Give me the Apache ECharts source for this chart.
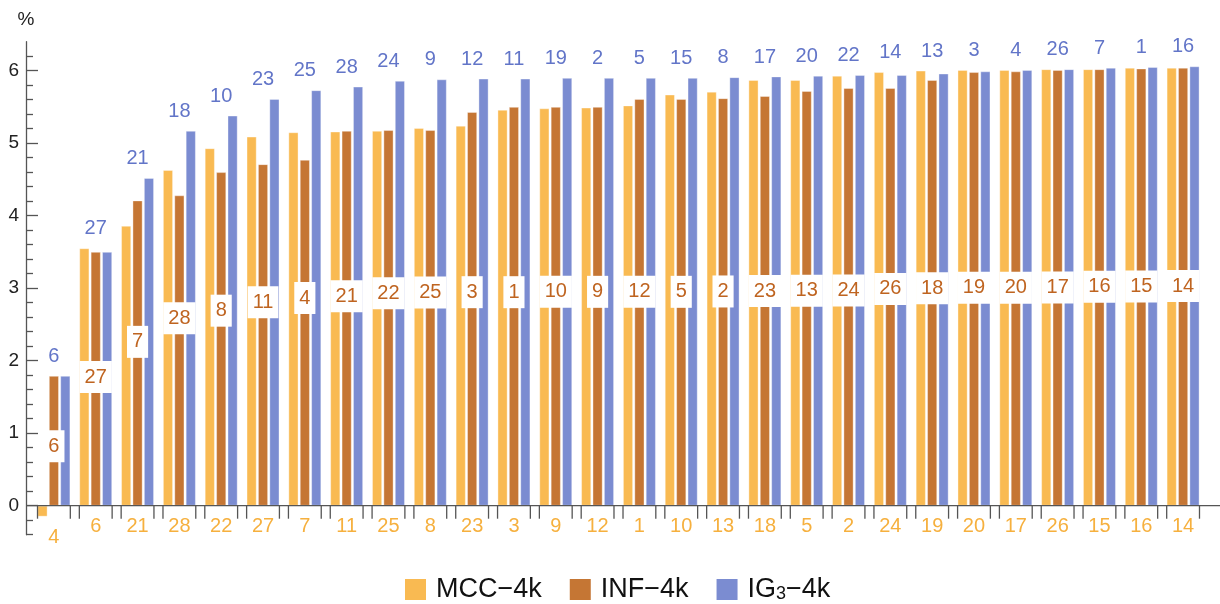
<!DOCTYPE html>
<html>
<head>
<meta charset="utf-8">
<script src="https://cdn.jsdelivr.net/npm/echarts@6/dist/echarts.min.js"></script>
<style>
  html, body { margin: 0; padding: 0; background: #ffffff; }
  #chart { width: 1220px; height: 604px; }
</style>
</head>
<body>
<div id="chart"></div>
<script>
// Rank labels of each group (sample ids ordered by the MCC-4k score)
const MCC_RANK = [4, 6, 21, 28, 22, 27, 7, 11, 25, 8, 23, 3, 9, 12, 1, 10, 13, 18, 5, 2, 24, 19, 20, 17, 26, 15, 16, 14];
const INF_RANK = [6, 27, 7, 28, 8, 11, 4, 21, 22, 25, 3, 1, 10, 9, 12, 5, 2, 23, 13, 24, 26, 18, 19, 20, 17, 16, 15, 14];
const IG_RANK  = [6, 27, 21, 18, 10, 23, 25, 28, 24, 9, 12, 11, 19, 2, 5, 15, 8, 17, 20, 22, 14, 13, 3, 4, 26, 7, 1, 16];

// Scores in percent
const MCC = [-0.15, 3.55, 3.86, 4.63, 4.93, 5.09, 5.15, 5.16, 5.17, 5.21, 5.24, 5.46, 5.48, 5.49,
             5.52, 5.67, 5.71, 5.87, 5.87, 5.93, 5.98, 6.00, 6.01, 6.01, 6.02, 6.02, 6.04, 6.04];
const INF = [1.79, 3.50, 4.21, 4.28, 4.60, 4.71, 4.77, 5.17, 5.18, 5.18, 5.43, 5.50, 5.50, 5.50,
             5.61, 5.61, 5.62, 5.65, 5.72, 5.76, 5.76, 5.87, 5.98, 5.99, 6.01, 6.02, 6.03, 6.04];
const IG  = [1.79, 3.50, 4.52, 5.17, 5.38, 5.61, 5.73, 5.78, 5.86, 5.88, 5.89, 5.89, 5.90, 5.90,
             5.90, 5.90, 5.91, 5.92, 5.93, 5.94, 5.94, 5.96, 5.99, 6.01, 6.02, 6.04, 6.05, 6.06];

const SERIES_NAMES = ['MCC\u22124k', 'INF\u22124k', 'IG\u2083\u22124k'];
const Y_TICKS = [0, 1, 2, 3, 4, 5, 6];
const Y_MIN = -0.4, Y_MAX = 6.4;

const COLORS = ['#F9BA52', '#C57634', '#7B8CD1'];
const LABEL_COLORS = ['#F6B03E', '#BF6420', '#6275C8'];
const AXIS_COLOR = '#555555';
const FONT = '"Liberation Sans", Arial, sans-serif';
const BAR_W = 10, BAR_GAP = 0.14;

// minor ticks every 0.2 between the labelled integers
const minorTicks = [];
for (let k = -2; k <= 31; k++) if (k % 5 !== 0) minorTicks.push(+(k * 0.2).toFixed(1));

// vertical extent of each group (used to place the group labels)
const lo = MCC.map((v, i) => Math.min(0, v, INF[i], IG[i]));
const hi = MCC.map((v, i) => Math.max(0, v, INF[i], IG[i]));

const chart = echarts.init(document.getElementById('chart'), null, { renderer: 'canvas' });

const barSeries = [MCC, INF, IG].map((vals, s) => ({
  name: SERIES_NAMES[s],
  type: 'bar',
  barWidth: BAR_W,
  barGap: (BAR_GAP * 100) + '%',
  yAxisIndex: 0,
  data: vals,
  itemStyle: { color: COLORS[s], borderColor: 'rgba(255,255,255,0.45)', borderWidth: 0.8 },
  z: 2
}));

const option = {
  animation: false,
  backgroundColor: '#ffffff',
  grid: { left: 33, right: 16, top: 41.7, bottom: 69.3, containLabel: false },
  xAxis: {
    type: 'category',
    data: MCC_RANK.map(String),
    axisLine: { show: false },
    axisTick: { show: false },
    axisLabel: { show: false },
    splitLine: { show: false }
  },
  yAxis: [
    {
      type: 'value', position: 'left', offset: 7,
      min: Y_MIN, max: Y_MAX,
      name: '%', nameLocation: 'end', nameGap: 12,
      nameTextStyle: { fontFamily: FONT, fontSize: 19, color: '#222', align: 'center' },
      axisLine: { show: true, lineStyle: { color: AXIS_COLOR, width: 1.3 } },
      axisTick: { show: true, inside: true, length: 12, customValues: Y_TICKS, lineStyle: { color: AXIS_COLOR, width: 1.3 } },
      axisLabel: { show: true, customValues: Y_TICKS, margin: 7, fontFamily: FONT, fontSize: 19, color: '#222' },
      splitLine: { show: false }
    },
    {
      type: 'value', position: 'left', offset: 7,
      min: Y_MIN, max: Y_MAX,
      axisLine: { show: false },
      axisTick: { show: true, inside: true, length: 7, customValues: minorTicks, lineStyle: { color: AXIS_COLOR, width: 1.3 } },
      axisLabel: { show: false },
      splitLine: { show: false }
    }
  ],
  legend: {
    data: SERIES_NAMES,
    left: 400, top: 571,
    itemWidth: 21, itemHeight: 21, itemGap: 28,
    icon: 'rect',
    itemStyle: { borderWidth: 0 },
    formatter: n => n === SERIES_NAMES[2] ? '{b|IG}{s|3}{b|\u22124k}' : '{b|' + n + '}',
    textStyle: {
      fontFamily: FONT, fontSize: 27, color: '#111', padding: [0, 0, 0, 5],
      rich: {
        b: { fontFamily: FONT, fontSize: 27, color: '#111' },
        s: { fontFamily: FONT, fontSize: 18, color: '#111', padding: [10, 0, 0, 0] }
      }
    }
  },
  series: barSeries.concat([
    {
      // zero line of the category axis and the paired ticks at each group's edges
      name: 'axisMarks',
      type: 'custom',
      yAxisIndex: 0,
      silent: true,
      z: 3,
      data: MCC_RANK.map((_, i) => [i, 0]),
      renderItem(params, api) {
        const p = api.coord([api.value(0), 0]);
        const half = (3 * BAR_W + 2 * BAR_W * BAR_GAP) / 2;
        const st = { stroke: AXIS_COLOR, lineWidth: 1.3 };
        const children = [
          { type: 'line', shape: { x1: p[0] - half, y1: p[1], x2: p[0] - half, y2: p[1] + 13 }, style: st },
          { type: 'line', shape: { x1: p[0] + half, y1: p[1], x2: p[0] + half, y2: p[1] + 13 }, style: st }
        ];
        if (params.dataIndex === 0) {
          const cs = params.coordSys;
          children.push({ type: 'line', shape: { x1: cs.x - 7, y1: p[1], x2: api.getWidth(), y2: p[1] }, style: st });
        }
        return { type: 'group', children };
      }
    },
    {
      // rank labels: MCC below each group, INF boxed at mid-height, IG3 above
      name: 'rankLabels',
      type: 'custom',
      yAxisIndex: 0,
      silent: true,
      z: 5,
      data: MCC_RANK.map((_, i) => [i, lo[i], hi[i]]),
      renderItem(params, api) {
        const i = params.dataIndex;
        const x = api.coord([i, 0])[0];
        const yLo = api.coord([i, lo[i]])[1];
        const yHi = api.coord([i, hi[i]])[1];
        const yMid = api.coord([i, (lo[i] + hi[i]) / 2])[1];
        const font = '20px ' + FONT;
        return {
          type: 'group',
          children: [
            { type: 'text', x: x, y: yLo + 20.5,
              style: { text: String(MCC_RANK[i]), fill: LABEL_COLORS[0], font, align: 'center', verticalAlign: 'middle' } },
            { type: 'text', x: x, y: yHi - 19.5,
              style: { text: String(IG_RANK[i]), fill: LABEL_COLORS[2], font, align: 'center', verticalAlign: 'middle' } },
            { type: 'text', x: x, y: yMid,
              style: { text: String(INF_RANK[i]), fill: LABEL_COLORS[1], font, align: 'center', verticalAlign: 'middle',
                       backgroundColor: '#ffffff', padding: [6, 5] } }
          ]
        };
      }
    }
  ])
};

chart.setOption(option);
</script>
</body>
</html>
